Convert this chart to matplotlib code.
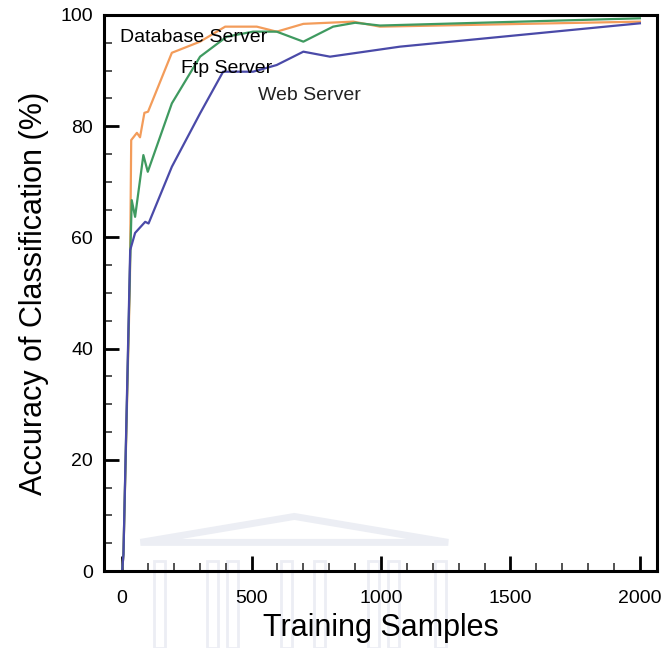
import matplotlib
matplotlib.use("Agg")
import matplotlib.pyplot as plt
from matplotlib.patches import Polygon, Rectangle
from matplotlib.ticker import MultipleLocator

plt.rcParams['font.family'] = ['Liberation Sans', 'DejaVu Sans']

# данные
db_x = [0, 5, 30, 35, 57, 69, 86, 100, 192, 301, 398, 520, 597, 700, 893, 996, 2000]
db_y = [0, 3, 52, 77.5, 78.8, 78.0, 82.4, 82.6, 93.2, 95.2, 97.9, 97.9, 97.0, 98.4, 98.8, 97.9, 98.8]

ftp_x = [0, 5, 30, 37, 50, 82, 99, 192, 301, 404, 506, 597, 700, 815, 900, 996, 2000]
ftp_y = [0, 3, 54, 66.7, 63.7, 74.8, 71.8, 84.1, 92.5, 96.1, 97.0, 97.0, 95.2, 97.9, 98.6, 98.1, 99.4]

web_x = [0, 5, 31, 50, 89, 102, 192, 301, 390, 506, 597, 700, 803, 1073, 2000]
web_y = [0, 3, 57.7, 60.8, 62.8, 62.5, 72.7, 82.3, 89.8, 89.8, 91.0, 93.4, 92.5, 94.3, 98.5]

fig = plt.figure(figsize=(6.69, 6.48), dpi=100)
ax = fig.add_axes([0.1555, 0.1188, 0.8265, 0.8581])

# бледный водяной знак внизу
wm = '#eceef4'
fig.patches.append(Polygon([[0.21, 0.163], [0.44, 0.203], [0.67, 0.163]],
                           closed=True, fill=False, ec=wm, lw=5,
                           transform=fig.transFigure, zorder=-5))
for cx in [0.23, 0.31, 0.34, 0.42, 0.47, 0.55, 0.58, 0.65]:
    fig.patches.append(Rectangle((cx, 0.0), 0.016, 0.135, fc='none', ec=wm,
                                 lw=2, transform=fig.transFigure, zorder=-5))

ax.plot(db_x, db_y, color='#f39c5a', lw=1.6)
ax.plot(ftp_x, ftp_y, color='#3f9a60', lw=1.6)
ax.plot(web_x, web_y, color='#4a4aa8', lw=1.6)

ax.text(-8, 96, 'Database Server', fontsize=14, va='center', ha='left')
ax.text(228, 90.3, 'Ftp Server', fontsize=14, va='center', ha='left')
ax.text(525, 85.6, 'Web Server', fontsize=14, va='center', ha='left', color='#222222')

ax.set_xlim(-70, 2066)
ax.set_ylim(0, 100)
ax.xaxis.set_major_locator(MultipleLocator(500))
ax.xaxis.set_minor_locator(MultipleLocator(100))
ax.yaxis.set_major_locator(MultipleLocator(20))
ax.yaxis.set_minor_locator(MultipleLocator(5))
ax.tick_params(which='major', direction='in', length=11, width=2, labelsize=14, pad=8)
ax.tick_params(axis='x', which='major', pad=14)
ax.tick_params(which='minor', direction='in', length=6, width=1.3, color='#444444')
for s in ax.spines.values():
    s.set_linewidth(2.2)

ax.set_xlabel('Training Samples', fontsize=22, labelpad=4)
ax.set_ylabel('Accuracy of Classification (%)', fontsize=22, labelpad=8)
ax.patch.set_alpha(0)

fig.savefig('out.png', dpi=100)
